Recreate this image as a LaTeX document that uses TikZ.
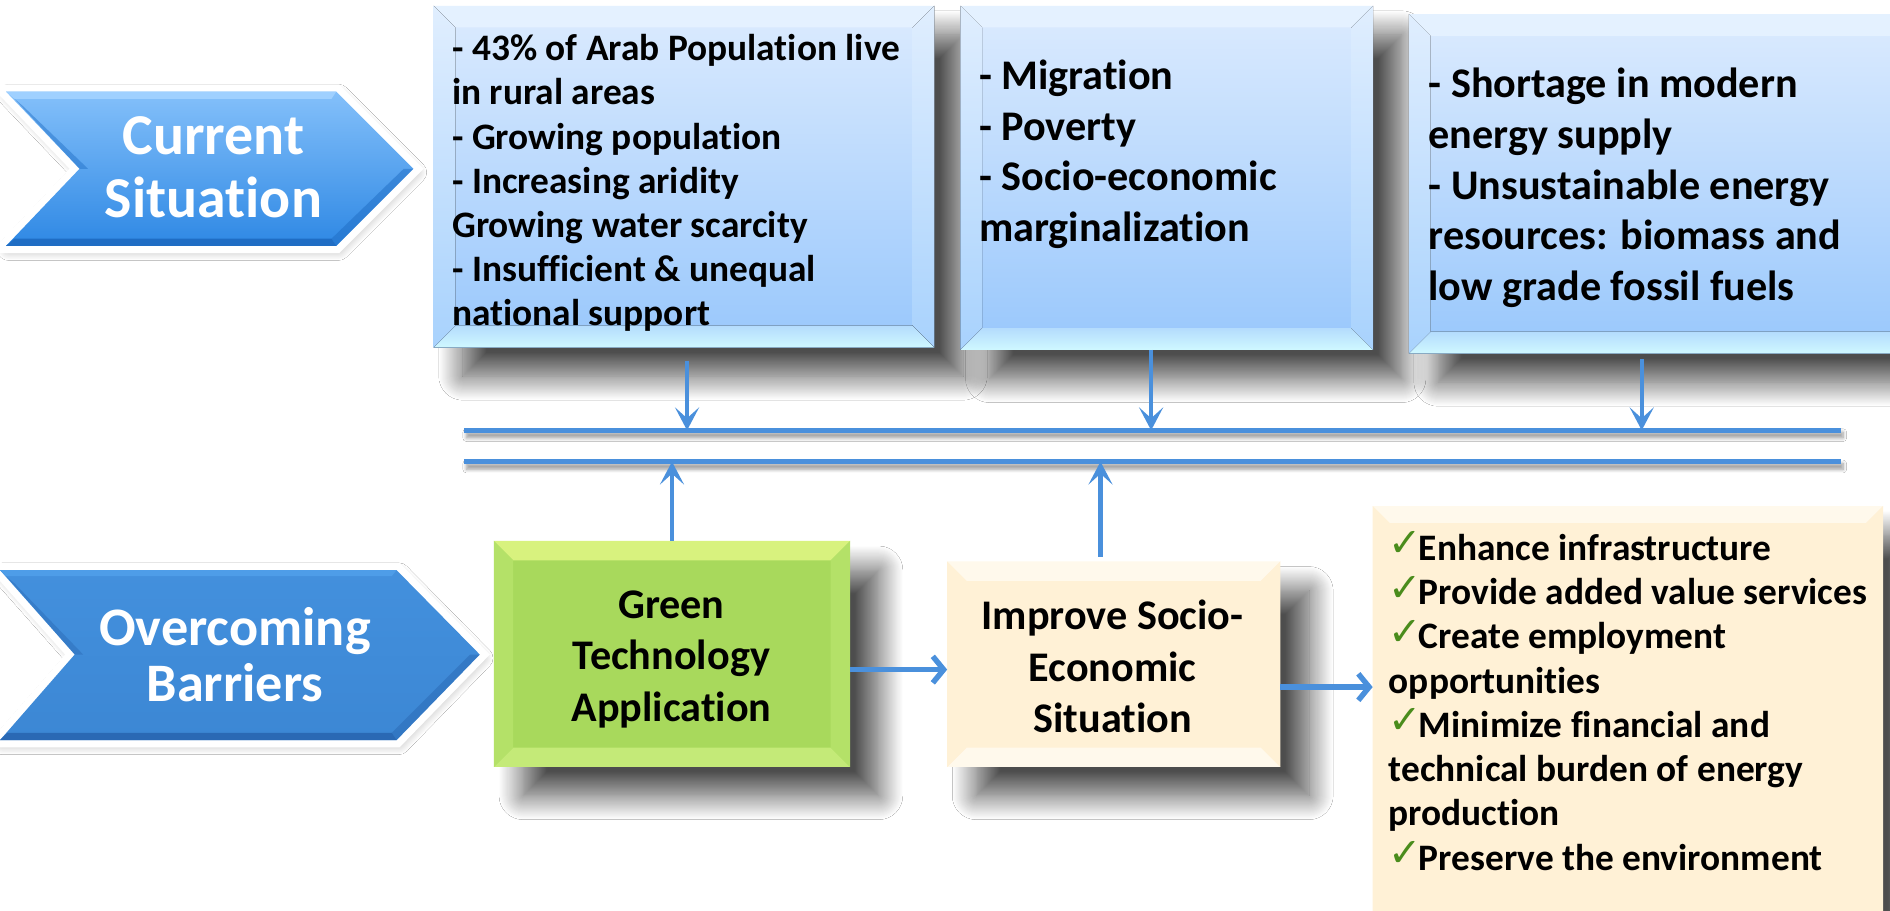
\documentclass[tikz,border=0pt]{standalone}
\usepackage{fontspec}
\setmainfont{Carlito}[Ligatures=NoCommon]
\newfontfamily\dejavu{DejaVu Sans}
\usetikzlibrary{arrows.meta,shadows.blur,calc}
\definecolor{busblue}{HTML}{4A90DC}
\definecolor{bodytop}{HTML}{DCEBFE}
\definecolor{bodybot}{HTML}{98C7FC}
\definecolor{bevtop}{HTML}{E4F1FF}
\definecolor{bevbotA}{HTML}{B4DCFD}
\definecolor{bevbotB}{HTML}{CFF8FF}
\definecolor{sideA}{HTML}{E0EEFE}
\definecolor{sideB}{HTML}{A8D2FD}
\definecolor{grbody}{HTML}{A8D95C}
\definecolor{grtop}{HTML}{D8F27E}
\definecolor{grbot}{HTML}{C4EA78}
\definecolor{grside}{HTML}{B4E168}
\definecolor{cream}{HTML}{FFF1D6}
\definecolor{creambev}{HTML}{FFF9EC}
\definecolor{checkgreen}{HTML}{4A8C1C}
\definecolor{chevtop}{HTML}{84C0FA}
\definecolor{chevbot}{HTML}{2E88E4}
\definecolor{chevlight}{HTML}{9FD0FF}
\definecolor{chevdark}{HTML}{1F6DC4}
\definecolor{obtop}{HTML}{4390DD}
\definecolor{obbot}{HTML}{3C87D4}
\definecolor{oblight}{HTML}{4E9DE8}
\definecolor{obdark}{HTML}{2A69B4}
\newcommand\mybevel[6]{%
  \fill[#3] (#1.north west) -- (#1.north east) -- ([xshift=-#2pt,yshift=-#2pt]#1.north east) -- ([xshift=#2pt,yshift=-#2pt]#1.north west) -- cycle;
  \fill[#4] (#1.south west) -- (#1.south east) -- ([xshift=-#2pt,yshift=#2pt]#1.south east) -- ([xshift=#2pt,yshift=#2pt]#1.south west) -- cycle;
  \fill[#5] (#1.north west) -- ([xshift=#2pt,yshift=-#2pt]#1.north west) -- ([xshift=#2pt,yshift=#2pt]#1.south west) -- (#1.south west) -- cycle;
  \fill[#6] (#1.north east) -- ([xshift=-#2pt,yshift=-#2pt]#1.north east) -- ([xshift=-#2pt,yshift=#2pt]#1.south east) -- (#1.south east) -- cycle;
}
\newcommand\mycheck{\makebox[25pt][l]{\smash{\raisebox{3pt}{\dejavu\fontsize{33}{33}\selectfont\textcolor{checkgreen}{✓}}}}}
\begin{document}
\begin{tikzpicture}[x=1pt,y=-1pt,
  boxshadow/.style={blur shadow={shadow xshift=24pt,shadow yshift=-24pt,shadow blur radius=20pt,shadow blur steps=24,shadow opacity=70}},
  bluebox/.style={rectangle,inner sep=0pt,top color=bodytop,bottom color=bodybot,boxshadow},
  greenbox/.style={rectangle,inner sep=0pt,fill=grbody,boxshadow},
  creambox/.style={rectangle,inner sep=0pt,fill=cream,boxshadow},
  chevborder/.style={draw=white,line width=12pt,line join=miter,fill=white,
     blur shadow={shadow xshift=2pt,shadow yshift=-3pt,shadow blur radius=9pt,shadow blur steps=16,shadow opacity=35}},
  chevtext/.style={text=white,font=\fontsize{48}{52}\selectfont\bfseries,align=center,inner sep=0pt},
  chevtextB/.style={text=white,font=\fontsize{45}{47}\selectfont\bfseries,align=center,inner sep=0pt},
  smalltext/.style={font=\fontsize{31}{36.7}\selectfont\bfseries,align=left,inner sep=0pt,anchor=north west},
  midtext/.style={font=\fontsize{35}{42}\selectfont\bfseries,align=left,inner sep=0pt,anchor=north west},
  centertext/.style={font=\fontsize{35}{42.5}\selectfont\bfseries,align=center,inner sep=0pt},
  busline/.style={fill=busblue,blur shadow={shadow xshift=2pt,shadow yshift=-4pt,shadow blur radius=3pt,shadow blur steps=8,shadow opacity=40}},
  vertarr/.style={draw=busblue,line width=3.4pt,-{Stealth[length=19pt,width=20pt,inset=9pt]}},
  horarr/.style={draw=busblue,line width=4.5pt,-{Straight Barb[length=9pt,width=22pt]}}
]
\useasboundingbox (0,0) rectangle (1568,755);
\fill[white] (0,0) rectangle (1568,755);

% chevrons
\path[chevborder] (5,76) -- (279,76) -- (343,140) -- (279,204) -- (5,204) -- (66,140) -- cycle;
\shade[top color=chevtop,bottom color=chevbot] (5,76) -- (279,76) -- (343,140) -- (279,204) -- (5,204) -- (66,140) -- cycle;
\fill[chevlight] (5,76) -- (279,76) -- (275,82) -- (12,82) -- cycle;
\fill[chevdark,opacity=0.45] (12,82) -- (66,140) -- (73,140) -- (19,88) -- cycle;
\fill[chevdark] (5,204) -- (279,204) -- (275,198) -- (12,198) -- cycle;
\fill[chevdark,opacity=0.5] (279,204) -- (343,140) -- (335,140) -- (275,198) -- cycle;
\node[chevtext] (cs) at (177,139) {Current\\Situation};

\path[chevborder] (0,473) -- (329,473) -- (398,543) -- (329,614) -- (0,614) -- (62,543) -- cycle;
\shade[top color=obtop,bottom color=obbot] (0,473) -- (329,473) -- (398,543) -- (329,614) -- (0,614) -- (62,543) -- cycle;
\fill[oblight] (0,473) -- (329,473) -- (325,478) -- (5,478) -- cycle;
\fill[obdark,opacity=0.45] (5,478) -- (62,543) -- (69,543) -- (12,484) -- cycle;
\fill[obdark] (0,614) -- (329,614) -- (325,608) -- (6,608) -- cycle;
\fill[obdark,opacity=0.5] (329,614) -- (398,543) -- (390,543) -- (325,608) -- cycle;
\node[chevtextB] (ob) at (195,543) {Overcoming\\Barriers};

% top boxes
\node[bluebox,minimum width=415pt,minimum height=283pt] (b1) at (567.5,146.5) {};
\node[bluebox,minimum width=342pt,minimum height=285pt] (b2) at (968,147.5) {};
\node[bluebox,minimum width=431pt,minimum height=281pt] (b3) at (1384.5,152.5) {};
\foreach \b in {b1,b2,b3}{
  \mybevel{\b}{18}{fill=bevtop}{top color=bevbotA,bottom color=bevbotB}{top color=sideA,bottom color=sideB}{top color=sideA,bottom color=sideB}
}
\node[smalltext] (t1) at (375,28.3) {- 43\% of Arab Population live\\in rural areas\\- Growing population\\- Increasing aridity\\Growing water scarcity\\- Insufficient \& unequal\\national support};
\node[midtext] (t2) at (812,49.5) {- Migration\\- Poverty\\- Socio-economic\\marginalization};
\node[midtext] (t3) at (1185,56.5) {- Shortage in modern\\energy supply\\- Unsustainable energy\\resources: biomass and\\low grade fossil fuels};

% bus lines
\coordinate (bus1L) at (385,357);
\coordinate (bus1R) at (1527,357);
\coordinate (bus2L) at (385,383);
\coordinate (bus2R) at (1527,383);
\path[busline] ([yshift=2.3pt]bus1L) rectangle ([yshift=-2.3pt]bus1R);
\path[busline] ([yshift=2.3pt]bus2L) rectangle ([yshift=-2.3pt]bus2R);

% bottom boxes
\node[greenbox,minimum width=295pt,minimum height=187pt] (gr) at (557.5,542.5) {};
\mybevel{gr}{16}{fill=grtop}{fill=grbot}{fill=grside}{fill=grside}
\node[centertext] (grt) at (557,547) {Green\\Technology\\Application};

\node[creambox,minimum width=276pt,minimum height=170pt] (imp) at (924,551) {};
\mybevel{imp}{16}{fill=creambev}{fill=creambev}{fill=cream}{fill=cream}
\node[centertext] (impt) at (923,553) {Improve Socio-\\Economic\\Situation};

\node[creambox,minimum width=423pt,minimum height=350pt] (lst) at (1350.5,595) {};
\mybevel{lst}{14}{fill=creambev}{fill=creambev}{fill=cream}{fill=cream}
\node[smalltext] (lstt) at (1152,443) {\mycheck Enhance infrastructure\\\mycheck Provide added value services\\\mycheck Create employment\\opportunities\\\mycheck Minimize financial and\\technical burden of energy\\production\\\mycheck Preserve the environment};

% arrows
\coordinate (d1) at ([xshift=2.5pt,yshift=-11pt]b1.south);
\coordinate (d2) at ([xshift=-13pt]b2.south);
\coordinate (d3) at ([xshift=-22.5pt,yshift=-5pt]b3.south);
\draw[vertarr] (d1) -- (d1 |- bus1L);
\draw[vertarr] (d2) -- (d2 |- bus1L);
\draw[vertarr] (d3) -- (d3 |- bus1L);
\coordinate (u1) at (gr.north);
\coordinate (u2) at ([xshift=-11pt,yshift=4pt]imp.north);
\draw[vertarr] (u1) -- (u1 |- bus2L);
\draw[vertarr] (u2) -- (u2 |- bus2L);
\coordinate (h1) at ([yshift=-13pt]gr.east);
\coordinate (h2) at ([yshift=-19pt]imp.east);
\draw[horarr] (h1) -- (h1 -| imp.west);
\draw[horarr] (h2) -- (h2 -| lst.west);
\end{tikzpicture}
\end{document}
